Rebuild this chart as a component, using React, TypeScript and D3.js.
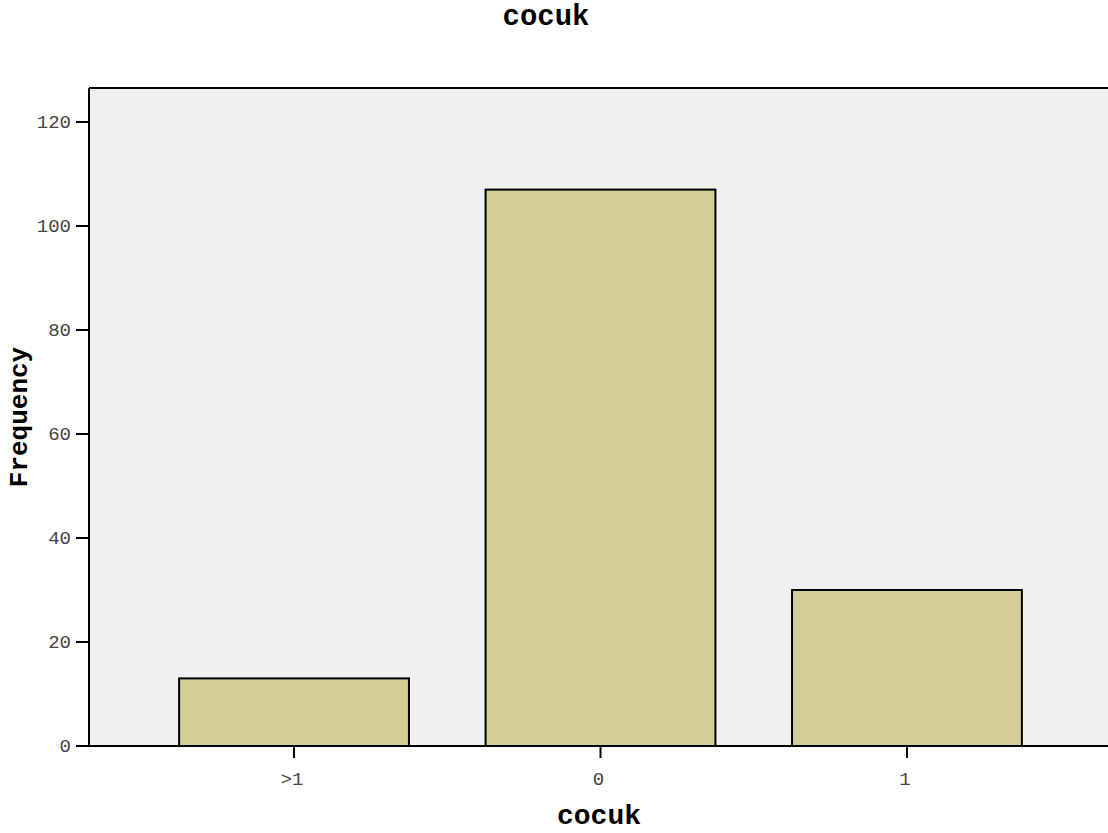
import React, { useEffect } from "react";
import * as d3 from "d3";

const categories = [">1", "0", "1"];
const frequencies = [13, 107, 30];
const yTicks = [0, 20, 40, 60, 80, 100, 120];

const W = 1108;
const H = 833;
const plot = { left: 89, right: 1112, top: 88, bottom: 746 };

export default function App() {
  useEffect(() => {
    document.body.style.margin = "0";
  }, []);
  const x = d3
    .scaleBand<string>()
    .domain(categories)
    .range([plot.left, plot.right])
    .paddingInner(0.25)
    .paddingOuter(0.294);
  const y = d3.scaleLinear().domain([0, 120]).range([plot.bottom, 122]);
  const mono = "Liberation Mono";
  return (
    <svg width={W} height={H} style={{ display: "block" }}>
      <rect x={0} y={0} width={W} height={H} fill="#ffffff" />
      <text x={546} y={25} textAnchor="middle" style={{ fontFamily: mono, fontWeight: 700, fontSize: 29 }} fill="#000">
        cocuk
      </text>
      <rect x={plot.left} y={plot.top} width={plot.right - plot.left} height={plot.bottom - plot.top} fill="#f0f0f0" />
      <line x1={plot.left} x2={plot.right} y1={plot.top} y2={plot.top} stroke="#000" strokeWidth={2} />
      {categories.map((c, i) => (
        <rect
          key={c}
          x={x(c)!}
          y={y(frequencies[i])}
          width={x.bandwidth()}
          height={y(0) - y(frequencies[i])}
          fill="#d3ce98"
          stroke="#000"
          strokeWidth={2}
        />
      ))}
      <line x1={plot.left} x2={plot.left} y1={plot.top} y2={plot.bottom} stroke="#000" strokeWidth={2} />
      <line x1={plot.left - 13} x2={plot.right} y1={plot.bottom} y2={plot.bottom} stroke="#000" strokeWidth={2} />
      {yTicks.map((t) => (
        <g key={t}>
          <line x1={plot.left - 13} x2={plot.left} y1={y(t)} y2={y(t)} stroke="#000" strokeWidth={2} />
          <text x={71} y={y(t) + 6} textAnchor="end" style={{ fontFamily: mono, fontSize: 19 }} fill="#444">
            {t}
          </text>
        </g>
      ))}
      {categories.map((c) => {
        const cx = x(c)! + x.bandwidth() / 2;
        return (
          <g key={c}>
            <line x1={cx} x2={cx} y1={plot.bottom} y2={plot.bottom + 12} stroke="#000" strokeWidth={2} />
            <text x={cx - 2} y={785} textAnchor="middle" style={{ fontFamily: mono, fontSize: 19 }} fill="#444">
              {c}
            </text>
          </g>
        );
      })}
      <text x={599} y={824} textAnchor="middle" style={{ fontFamily: mono, fontWeight: 700, fontSize: 28 }} fill="#000">
        cocuk
      </text>
      <text
        transform={`translate(27, ${(plot.top + plot.bottom) / 2}) rotate(-90)`}
        textAnchor="middle"
        style={{ fontFamily: mono, fontWeight: 700, fontSize: 26 }}
        fill="#000"
      >
        Frequency
      </text>
    </svg>
  );
}
